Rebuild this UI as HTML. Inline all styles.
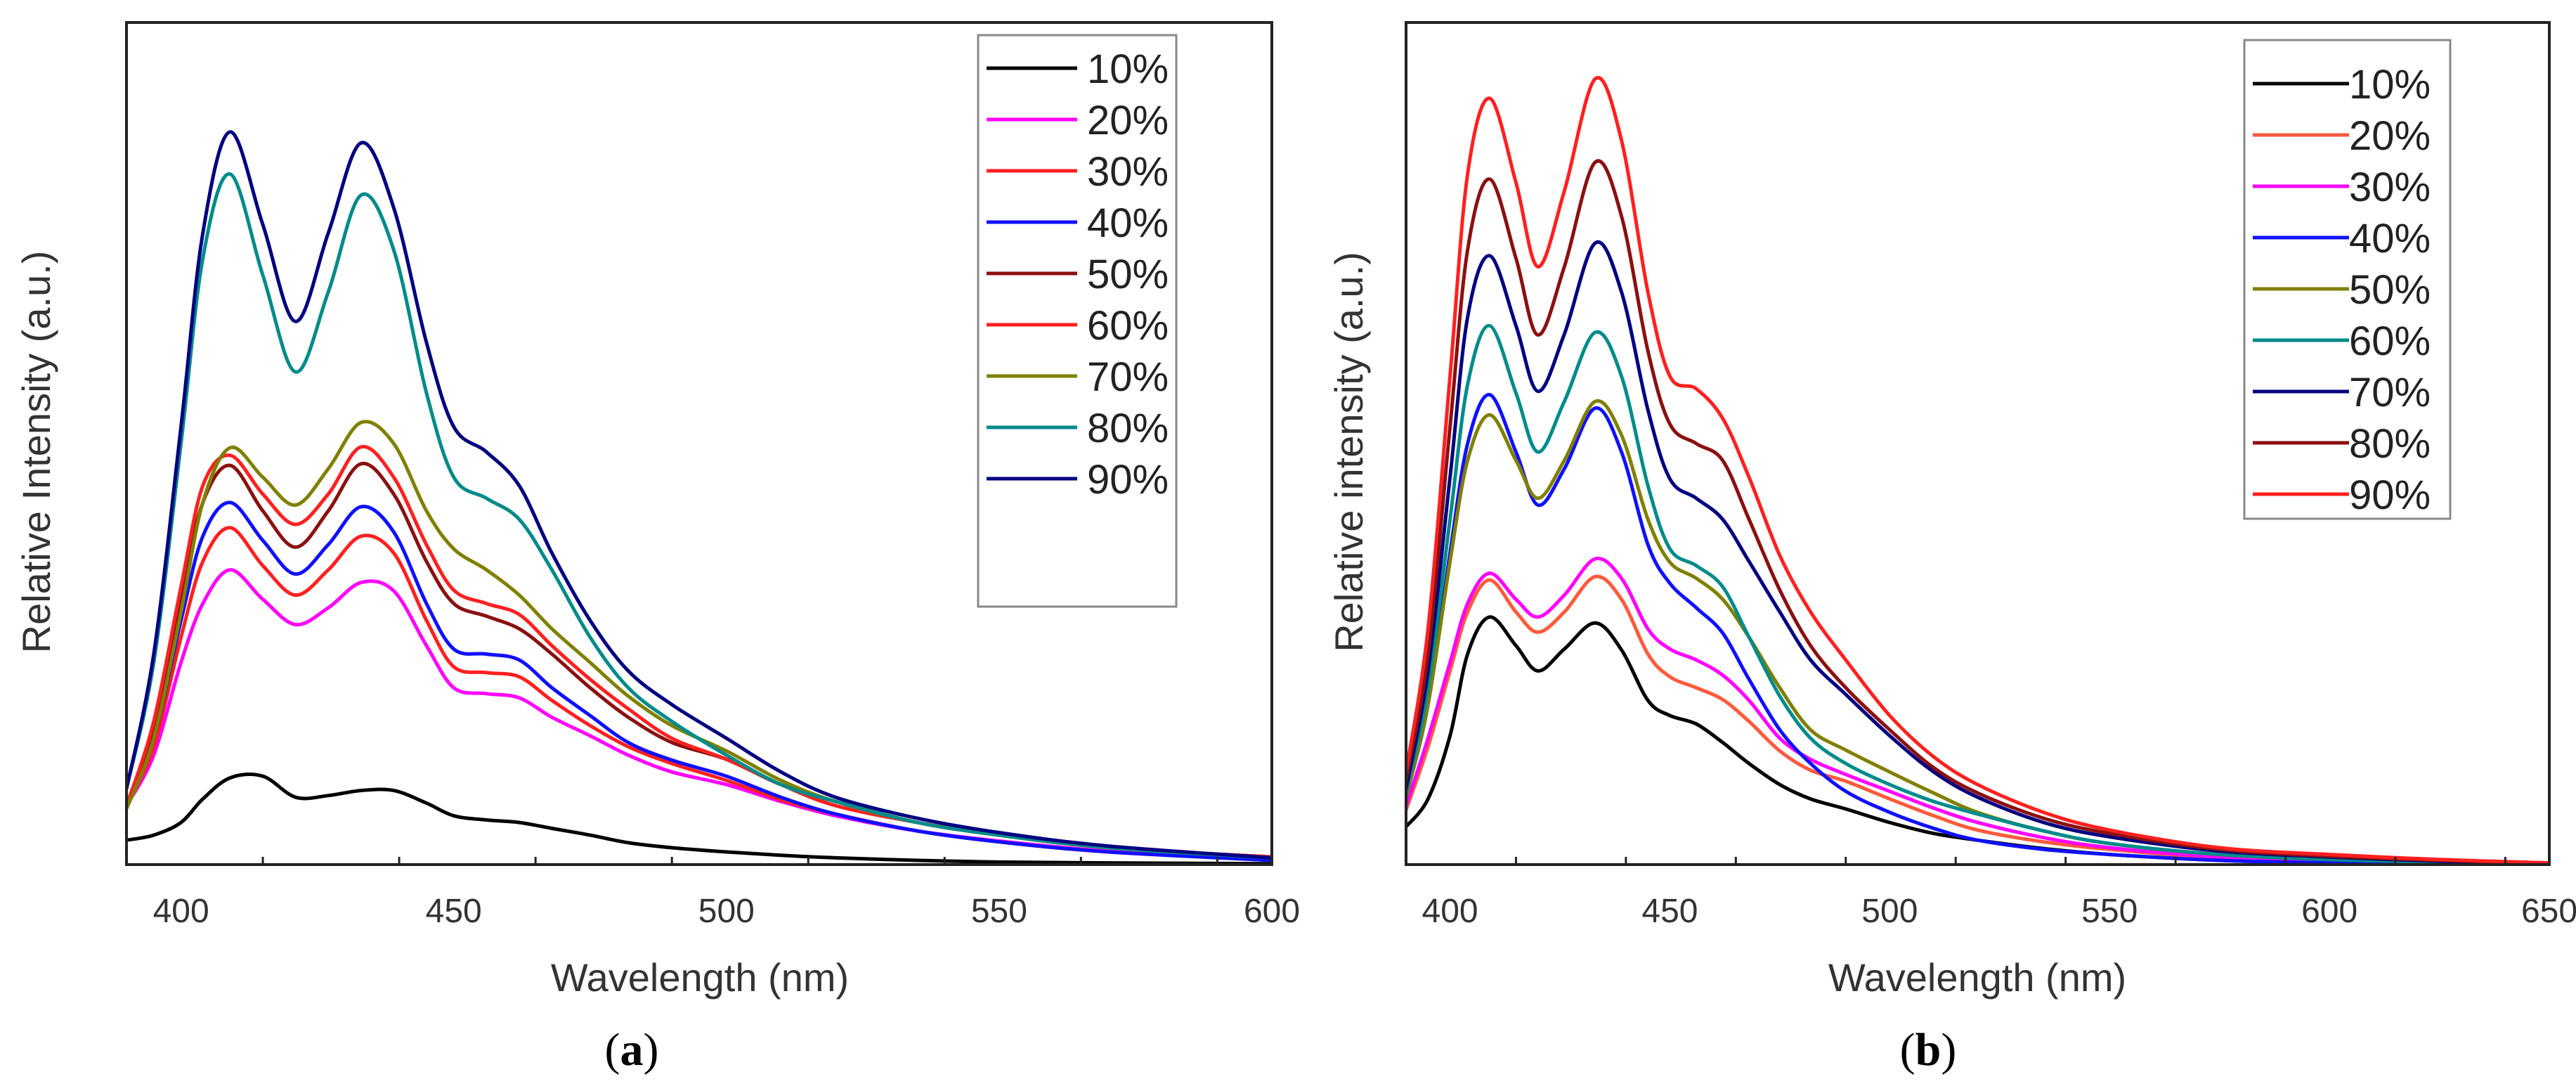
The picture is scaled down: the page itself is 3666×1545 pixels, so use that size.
<!DOCTYPE html>
<html><head><meta charset="utf-8"><style>
html,body{margin:0;padding:0;background:#fff;}
svg{display:block;font-family:"Liberation Sans",sans-serif;}
</style></head><body>
<svg id="chart" width="3666" height="1545" viewBox="0 0 3666 1545" xmlns="http://www.w3.org/2000/svg"></svg>
<script>
const gridA=[390,395,400,404,409,415,421,427,433,439,445,450,456,462,468,475,482,490,500,510,520,535,550,570,600];
const labelsA=["10%","20%","30%","40%","50%","60%","70%","80%","90%"];
const colorsA=["#000000","#ff00ff","#ff2020","#1010ff","#8b1010","#ff2020","#808000","#008b8b","#000080"];
const a10=[2.9,3.5,5,7.8,10.3,10.5,8,8.2,8.8,8.8,7.3,5.8,5.3,5,4.3,3.5,2.6,2,1.5,1.1,0.8,0.5,0.3,0.2,0.1];
const a20=[7,13,24,31,35,31.5,28.5,30.5,33.5,32.5,26,21,20.3,19.8,17.5,15.3,13,11,9.5,7.5,5.8,4,2.8,1.6,0.6];
const a30=[7,14,27,36,40,35.5,32,35,39,37,29,23.5,22.8,22.3,19.5,16.5,14,12,10,7.7,6,4,2.7,1.5,0.6];
const a40=[7,15,29,39,43,38.5,34.5,38,42.5,39.5,31,25.6,25,24.3,21,17.7,14.5,12.4,10.5,8,6,4,2.7,1.5,0.5];
const a50=[7,16,32,43,47.4,42,37.7,42,47.6,44,36,31,29.5,28,25,21,17.5,14.5,12.5,9.5,7.5,5,3.5,2,0.9];
const a60=[7,17,33,45,48.6,44,40.4,44,49.6,46,38,32.6,31,29.7,26,22,18.5,15,12.5,9.5,7,5,3.5,2,0.9];
const a70=[6.6,15,30,43,49.5,46,42.7,47,52.5,50,42,37.5,35,32,28,24,20,16.5,13.5,10,7.5,5,3.5,2,0.8];
const a80=[9,24,50,72,82,70,58.5,68,79.5,73,56,46,43.5,41,35,27,21,17,13,9.5,7.5,5,3.5,2,0.8];
const a90=[9,25,52,75,87,76,64.5,75,85.7,78,62,52,49,45,37,29,23,19,15,11,8,5.5,3.8,2.2,0.8];
const gridB=[390,395,400,404,409,415,420,426,433,439,445,450,456,462,468,475,482,490,500,510,520,535,550,575,600,625,650];
const labelsB=["10%","20%","30%","40%","50%","60%","70%","80%","90%"];
const colorsB=["#000000","#ff5a3c","#ff00ff","#1010ff","#808000","#008b8b","#000080","#8b1010","#ff2020"];
const b10=[4.5,7.8,15.3,25,29.4,26,23,25.6,28.7,25.5,19.5,17.7,16.7,14.5,12,9.5,7.8,6.6,5,3.7,2.9,1.9,1.2,0.5,0.3,0.1,0];
const b20=[6.5,14,23,30,33.8,30,27.6,30,34.2,31.5,25,22.3,21,19.6,17,13.5,11.2,9.9,7.8,5.8,4.1,2.7,1.8,0.8,0.4,0.2,0];
const b30=[7,15,24,31,34.6,31.5,29.4,32,36.3,34,28,25.6,24.3,22.5,19.5,15,12.5,10.7,8.7,6.7,5,3.2,2,0.9,0.4,0.2,0];
const b40=[8,19,37,50,55.8,49,42.7,47,54.2,49,38,33.4,30.5,27.5,22,16,12,8.7,6.2,4.3,2.9,1.8,1.2,0.5,0.2,0.1,0];
const b50=[8,19,36,48,53.4,48,43.5,48,55,51,41,35.9,34,31.5,27,21,16,13.6,11,8.5,6.2,4,2.5,1.2,0.6,0.3,0.1];
const b60=[8.5,21,41,57,64,56,49,55,63.2,58,45,37.5,35.5,33,27,20,15,12,9.5,7.5,6,4,2.5,1.2,0.6,0.3,0.1];
const b70=[9,23,46,65,72.3,64,56.2,63,73.8,68,54,45.8,43.5,41,36,30,24.3,20.2,15.3,11,8,5,3.3,1.6,0.9,0.4,0.1];
const b80=[10,25,52,73,81.4,72,62.9,71,83.4,77,61,52.3,50,48,41,32.6,26,21,16,11.5,8.5,5.5,3.7,1.8,1,0.5,0.2];
const b90=[11,28,58,82,91,81,71,80,93.3,86,68,58,56.5,53,46,36.7,30,24.3,17.7,12.8,9.5,6.2,4.1,2,1.2,0.6,0.2];
const ticksA=[400,450,500,550,600];
const ticksB=[400,450,500,550,600,650];

const NS="http://www.w3.org/2000/svg";
const svg=document.getElementById('chart');
function mk(tag,attrs,parent){const e=document.createElementNS(NS,tag);for(const k in attrs)e.setAttribute(k,attrs[k]);(parent||svg).appendChild(e);return e;}
function smooth(pts){let d="M"+pts[0][0].toFixed(1)+","+pts[0][1].toFixed(1);
  for(let i=0;i<pts.length-1;i++){const p0=pts[Math.max(0,i-1)],p1=pts[i],p2=pts[i+1],p3=pts[Math.min(pts.length-1,i+2)];
  const c1=[p1[0]+(p2[0]-p0[0])/6,p1[1]+(p2[1]-p0[1])/6],c2=[p2[0]-(p3[0]-p1[0])/6,p2[1]-(p3[1]-p1[1])/6];
  d+=" C"+c1[0].toFixed(1)+","+c1[1].toFixed(1)+" "+c2[0].toFixed(1)+","+c2[1].toFixed(1)+" "+p2[0].toFixed(1)+","+p2[1].toFixed(1);}return d;}

function panel(cfg){
  const g=mk('g',{});
  
  
  const X=v=>cfg.x0+(v-cfg.xmin)/(cfg.xmax-cfg.xmin)*(cfg.x1-cfg.x0);
  const Y=v=>cfg.yb-(v/100)*(cfg.yb-cfg.yt);
  const clip=mk('clipPath',{id:cfg.name+'-clip'},g);
  mk('rect',{x:cfg.x0,y:cfg.yt,width:cfg.x1-cfg.x0,height:cfg.yb-cfg.yt},clip);
  const lines=mk('g',{'clip-path':'url(#'+cfg.name+'-clip)'},g);
  cfg.series.forEach((s,i)=>{
    const p=mk('path',{d:smooth(cfg.grid.map((w,j)=>[X(w),Y(s[j])])),fill:'none',stroke:cfg.colors[i],'stroke-width':5,'stroke-linejoin':'round'},lines);
    
    
  });
  const fr=mk('rect',{x:cfg.x0,y:cfg.yt,width:cfg.x1-cfg.x0,height:cfg.yb-cfg.yt,fill:'none',stroke:'#222','stroke-width':4},g);
  
  
  for(let v=cfg.xmin;v<=cfg.xmax;v+=25){if(v<400&&v%25)continue;const major=v%50===0;
    mk('line',{x1:X(v),x2:X(v),y1:cfg.yb,y2:cfg.yb-(major?18:11),stroke:'#222','stroke-width':3},g);}
  cfg.ticks.forEach(t=>{const tx=mk('text',{x:X(t),y:cfg.yb+82,'font-size':48,'text-anchor':'middle',fill:'#333'},g);tx.textContent=t;
    
    });
  const xt=mk('text',{x:cfg.xtx,y:1410,'font-size':56,'text-anchor':'middle',fill:'#333'},g);xt.textContent='Wavelength (nm)';
  
  
  const yt=mk('text',{x:0,y:0,'font-size':56,'text-anchor':'middle',fill:'#333',transform:'translate('+(cfg.ytx+18)+',643) rotate(-90)'},g);yt.textContent=cfg.ytitle;
  
  
  const lg=mk('g',{},g);
  
  
  mk('rect',{x:cfg.lx,y:cfg.ly,width:cfg.lw,height:cfg.lh,fill:'#fff',stroke:'#888','stroke-width':3},lg);
  cfg.labels.forEach((l,i)=>{const y=cfg.ly0+i*73;
    const e=mk('g',{},lg);
    
    
    mk('line',{x1:cfg.lx+12,x2:cfg.lineEnd,y1:y,y2:y,stroke:cfg.colors[i],'stroke-width':5},e);
    const t=mk('text',{x:cfg.textX,y:y+21,'font-size':58,fill:'#222'},e);t.textContent=l;});
  const cap=mk('text',{x:cfg.capx,y:1515,'font-size':66,'text-anchor':'middle','font-family':'Liberation Serif, serif',fill:'#000'},g);
  cap.innerHTML='(<tspan font-weight="bold">'+cfg.cap+'</tspan>)';
  
  
}
panel({name:'panel-a',grid:gridA,series:[a10,a20,a30,a40,a50,a60,a70,a80,a90],colors:colorsA,labels:labelsA,ticks:ticksA,
  xmin:390,xmax:600,x0:180,x1:1810,yt:32,yb:1230,xtx:996,ytx:53,ytitle:'Relative Intensity (a.u.)',
  lx:1392,ly:50,lw:282,lh:813,ly0:97,lineEnd:1533,textX:1547,capx:899,cap:'a'});
panel({name:'panel-b',grid:gridB,series:[b10,b20,b30,b40,b50,b60,b70,b80,b90],colors:colorsB,labels:labelsB,ticks:ticksB,
  xmin:390,xmax:650,x0:2001,x1:3628,yt:32,yb:1230,xtx:2814,ytx:1921,ytitle:'Relative intensity (a.u.)',
  lx:3194,ly:57,lw:293,lh:681,ly0:119,lineEnd:3343,textX:3343,capx:2744,cap:'b'});
</script>
</body></html>
